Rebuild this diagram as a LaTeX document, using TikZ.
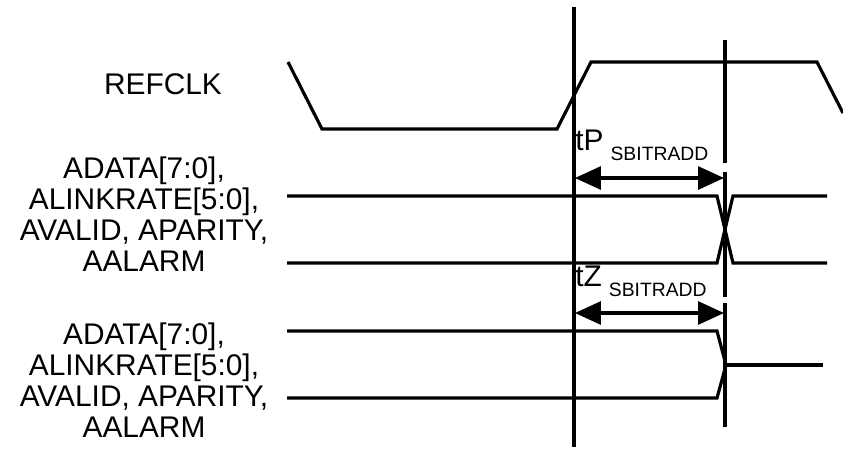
\documentclass[tikz,border=0pt]{standalone}
\usepackage{fontspec}
\setmainfont{Liberation Sans}
\usepackage{tikz}
\usetikzlibrary{arrows.meta}
\definecolor{ink}{HTML}{000000}
\tikzset{
  wave/.style={draw=ink, line width=1.8pt, line join=miter},
  tmark/.style={draw=ink, line width=1.8pt},
  span/.style={draw=ink, line width=1.8pt, {Triangle[length=0.52cm,width=0.46cm]}-{Triangle[length=0.52cm,width=0.46cm]}},
  sig/.style={text=ink, font=\fontsize{17}{17.6}\selectfont, align=center, inner sep=0pt},
  tlab/.style={text=ink, font=\fontsize{17}{17.6}\selectfont, inner sep=0pt},
}
\newcommand{\tsub}[1]{\kern4pt\raisebox{-5.7pt}{\fontsize{11}{11}\selectfont #1}}

\begin{document}
\begin{tikzpicture}[x=0.02cm, y=-0.02cm]
  \useasboundingbox (0,0) rectangle (843,451);
  % clock
  \coordinate (c0) at (288,62);
  \coordinate (c1) at (322,129);
  \coordinate (c2) at (557,129);
  \coordinate (c3) at (591,62);
  \coordinate (c4) at (817,62);
  \coordinate (c5) at (843,113);
  \draw[wave] (c0)--(c1)--(c2)--(c3)--(c4)--(c5);
  % time markers
  \coordinate (m1t) at (574,7);
  \coordinate (m1b) at (574,447);
  \draw[tmark] (m1t)--(m1b);
  \draw[tmark] (725,40)--(725,163);
  \draw[tmark] (725,172)--(725,297);
  \draw[tmark] (725,303)--(725,427);
  % first bus, crossing
  \coordinate (a0) at (287,196);
  \coordinate (a1) at (717,196);
  \coordinate (a2) at (733,263);
  \coordinate (a3) at (827,263);
  \coordinate (b0) at (287,263);
  \coordinate (b1) at (717,263);
  \coordinate (b2) at (733,196);
  \coordinate (b3) at (827,196);
  \draw[wave] (a0)--(a1)--(a2)--(a3);
  \draw[wave] (b0)--(b1)--(b2)--(b3);
  % second bus, to high-z
  \coordinate (d0) at (287,331);
  \coordinate (d1) at (717,331);
  \coordinate (dm) at (726,365);
  \coordinate (d3) at (823,365);
  \coordinate (e0) at (287,398);
  \coordinate (e1) at (717,398);
  \draw[wave] (d0)--(d1)--(dm)--(e1)--(e0);
  \draw[wave] (dm)--(d3);
  % spans
  \coordinate (p1) at (575,178);
  \coordinate (p2) at (724,178);
  \coordinate (z1) at (575,313);
  \coordinate (z2) at (724,313);
  \draw[span] (p1)--(p2);
  \draw[span] (z1)--(z2);
  % labels
  \node[sig] (refclk) at (163,84) {REFCLK};
  \node[sig] (busa) at (144,214) {ADATA[7:0],\\ALINKRATE[5:0],\\AVALID, APARITY,\\AALARM};
  \node[sig] (busb) at (144,380) {ADATA[7:0],\\ALINKRATE[5:0],\\AVALID, APARITY,\\AALARM};
  \node[tlab, anchor=base west] (tp) at (575,150) {tP\tsub{SBITRADD}};
  \node[tlab, anchor=base west] (tz) at (575,286) {tZ\tsub{SBITRADD}};
\end{tikzpicture}
\end{document}
